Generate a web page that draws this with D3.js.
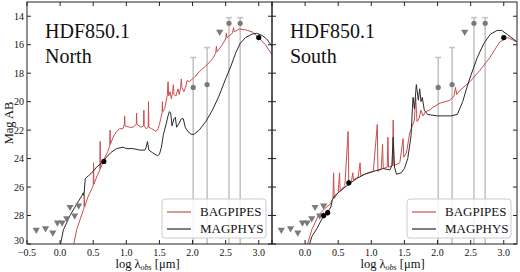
<!DOCTYPE html>
<html lang="en">
<head>
    <meta charset="UTF-8">
    <title>HDF850.1 SED</title>
    <script src="https://d3js.org/d3.v7.min.js"></script>
    <style>
        body { margin: 0; background: #fff; }
    </style>
</head>
<body>
<script>
    const width  = 520;
    const height = 272;

    // tick values
    const xTicks = [-0.5, 0.0, 0.5, 1.0, 1.5, 2.0, 2.5, 3.0];
    const yTicks = [14, 16, 18, 20, 22, 24, 26, 28, 30];

    // photometry shared by both panels (log lambda, mag)
    const limits = [[-0.36, 29.0], [-0.22, 28.9], [-0.11, 29.2], [-0.04, 28.5], [0.03, 28.5],
                    [0.10, 28.2], [0.15, 27.4], [0.22, 28.0], [0.28, 27.3], [2.41, 15.1]];
    const firPts = [[2.01, 19.0, 16.9], [2.22, 18.8, 16.2], [2.55, 14.5, 14.1], [2.72, 14.5, 14.1]];

    // North component
    const northPipes = [[0.18,30.6],[0.25,29.0],[0.30,28.3],[0.36,27.5],[0.365,26.6],[0.37,27.4],[0.42,26.7],
        [0.48,26.1],[0.50,25.9],[0.505,24.3],[0.51,25.8],[0.56,25.2],[0.60,24.8],[0.605,22.8],[0.61,24.7],
        [0.66,24.1],[0.72,23.5],[0.75,23.1],[0.755,22.0],[0.76,23.0],[0.80,22.5],[0.85,22.1],[0.90,21.9],
        [0.95,21.9],[0.97,21.6],[0.975,21.0],[0.98,21.7],[1.05,21.8],[1.10,21.8],[1.15,21.6],[1.155,20.8],
        [1.16,21.6],[1.22,21.8],[1.26,21.7],[1.265,20.6],[1.27,21.7],[1.30,21.9],[1.33,21.8],[1.335,20.0],
        [1.34,21.8],[1.38,21.9],[1.42,22.0],[1.45,22.1],[1.48,21.9],[1.50,21.6],[1.52,21.2],[1.54,20.8],
        [1.545,20.0],[1.55,20.7],[1.58,20.5],[1.60,20.0],[1.62,19.5],[1.63,18.6],[1.64,19.6],[1.66,19.3],
        [1.68,19.8],[1.70,19.3],[1.71,18.8],[1.72,19.5],[1.75,19.6],[1.78,19.1],[1.80,19.5],[1.82,19.0],
        [1.83,18.4],[1.84,19.0],[1.87,19.3],[1.90,18.9],[1.92,18.5],[1.95,18.6],[2.00,18.4],[2.05,18.2],
        [2.10,17.9],[2.20,17.5],[2.30,17.0],[2.35,16.6],[2.36,16.1],[2.37,16.5],[2.45,16.0],[2.50,15.6],
        [2.51,15.2],[2.52,15.5],[2.60,15.2],[2.62,14.8],[2.63,15.1],[2.70,14.9],[2.80,14.95],[2.90,15.1],
        [3.00,15.5],[3.10,16.0],[3.20,16.7]];
    const northMagphys = [[-0.02,30.6],[0.05,29.0],[0.10,28.5],[0.15,28.0],[0.25,27.2],[0.33,26.6],[0.35,26.4],
        [0.36,26.6],[0.37,26.0],[0.38,25.4],[0.43,25.2],[0.50,24.9],[0.55,24.6],[0.63,24.3],[0.70,23.9],
        [0.76,23.6],[0.85,23.3],[0.95,23.2],[1.00,23.3],[1.10,23.3],[1.20,23.4],[1.28,23.4],[1.30,23.2],
        [1.32,22.8],[1.34,23.4],[1.40,23.6],[1.47,23.8],[1.50,23.7],[1.53,23.2],[1.56,22.3],[1.60,21.6],
        [1.63,21.0],[1.65,20.7],[1.67,20.8],[1.69,21.7],[1.72,21.2],[1.74,21.1],[1.76,21.8],[1.80,21.5],
        [1.83,21.2],[1.86,21.2],[1.89,21.8],[1.93,22.1],[1.98,22.3],[2.02,22.3],[2.10,22.0],[2.20,21.4],
        [2.30,20.6],[2.40,19.6],[2.50,18.4],[2.58,17.5],[2.65,16.6],[2.72,15.9],[2.80,15.5],[2.90,15.25],
        [2.97,15.2],[3.05,15.35],[3.12,15.6],[3.20,16.1]];
    const northDet = [[0.66, 24.2, 0.15], [3.00, 15.5, 0.15]];

    // South component
    const southPipes = [[0.00,30.6],[0.10,29.0],[0.20,28.0],[0.30,27.5],[0.38,27.2],[0.42,26.8],[0.43,25.0],
        [0.44,26.8],[0.48,26.5],[0.50,26.4],[0.52,25.0],[0.53,26.3],[0.58,26.0],[0.60,25.9],[0.65,22.1],
        [0.66,25.8],[0.70,25.6],[0.72,25.0],[0.73,25.5],[0.80,25.3],[0.83,24.3],[0.84,25.2],[0.90,25.1],
        [0.95,25.0],[1.03,24.9],[1.09,21.6],[1.10,24.9],[1.15,24.7],[1.17,23.0],[1.18,24.7],[1.24,24.6],
        [1.25,22.5],[1.26,24.6],[1.32,24.5],[1.33,21.3],[1.34,24.5],[1.43,24.3],[1.48,22.6],[1.49,23.9],
        [1.53,23.6],[1.58,22.2],[1.62,21.7],[1.65,21.3],[1.67,19.7],[1.69,21.4],[1.72,21.2],[1.75,20.6],
        [1.78,21.0],[1.82,20.7],[1.88,20.6],[1.93,20.4],[2.04,20.1],[2.19,19.9],[2.25,19.6],[2.27,19.0],
        [2.29,19.5],[2.34,19.2],[2.49,18.6],[2.64,17.8],[2.79,16.9],[2.94,15.8],[3.06,15.5],[3.20,15.8]];
    const southMagphys = [[0.03,30.6],[0.10,29.5],[0.18,28.9],[0.27,28.1],[0.35,27.7],[0.39,27.4],[0.41,26.9],
        [0.45,26.6],[0.50,26.4],[0.63,25.9],[0.78,25.4],[0.90,25.1],[1.03,24.9],[1.18,24.7],[1.28,24.8],
        [1.31,24.5],[1.33,22.5],[1.35,24.6],[1.38,25.1],[1.45,25.0],[1.50,24.7],[1.55,24.0],[1.60,22.4],
        [1.62,20.5],[1.63,19.7],[1.65,20.5],[1.68,18.8],[1.71,19.9],[1.73,19.1],[1.75,20.0],[1.77,19.7],
        [1.80,20.6],[1.85,20.9],[2.00,21.0],[2.20,21.0],[2.30,20.9],[2.38,20.0],[2.45,18.9],[2.50,18.2],
        [2.60,16.9],[2.70,15.9],[2.80,15.25],[2.90,15.0],[2.97,15.0],[3.06,15.3],[3.20,15.8]];
    const southDet = [[0.28, 28.0, 0.2], [0.34, 27.8, 0.2], [0.66, 25.7, 0.2], [3.00, 15.5, 0.15]];

    const panels = [
        {x0: 27,  name: "North", pipes: northPipes, magphys: northMagphys, det: northDet, first: true},
        {x0: 272, name: "South", pipes: southPipes, magphys: southMagphys, det: southDet, first: false}
    ];

    const redCol   = "#c9504f";
    const blackCol = "#2a2a2a";
    const serif = "'Liberation Serif', 'Times New Roman', 'DejaVu Serif', serif";
    const pw = 245, yTop = 2, yBot = 244;

    const svg = d3.select("body").append("svg").attr("width", width).attr("height", height)
        .attr("font-family", serif);
    const defs = svg.append("defs");

    panels.forEach((p, i) => {
        const x = d3.scaleLinear().domain([-0.5, 3.2]).range([p.x0, p.x0 + pw]);
        const y = d3.scaleLinear().domain([13, 30]).range([yTop, yBot]);

        defs.append("clipPath").attr("id", "clip" + i)
            .append("rect").attr("x", p.x0).attr("y", yTop).attr("width", pw).attr("height", yBot - yTop);

        const g = svg.append("g").attr("clip-path", `url(#clip${i})`);

        // error bars of the FIR points
        firPts.forEach(d => {
            g.append("line").attr("x1", x(d[0])).attr("x2", x(d[0]))
                .attr("y1", y(d[2])).attr("y2", y(31))
                .attr("stroke", "#c4c4c4").attr("stroke-width", 1.6);
            g.append("line").attr("x1", x(d[0]) - 3).attr("x2", x(d[0]) + 3)
                .attr("y1", y(d[2])).attr("y2", y(d[2]))
                .attr("stroke", "#c4c4c4").attr("stroke-width", 1.6);
        });

        const line = d3.line().x(d => x(d[0])).y(d => y(d[1]));

        g.append("path").attr("d", line(p.pipes)).attr("fill", "none")
            .attr("stroke", redCol).attr("stroke-width", 1);
        g.append("path").attr("d", line(p.magphys)).attr("fill", "none")
            .attr("stroke", blackCol).attr("stroke-width", 1);

        // upper limits
        const tri = d3.symbol().type(d3.symbolTriangle).size(22);
        g.selectAll(null).data(limits).join("path")
            .attr("d", tri)
            .attr("transform", d => `translate(${x(d[0])},${y(d[1])}) rotate(180)`)
            .attr("fill", "#7a7a7a");

        g.selectAll(null).data(firPts).join("circle")
            .attr("cx", d => x(d[0])).attr("cy", d => y(d[1])).attr("r", 2.6)
            .attr("fill", "#7a7a7a");

        // detections
        p.det.forEach(d => {
            g.append("line").attr("x1", x(d[0])).attr("x2", x(d[0]))
                .attr("y1", y(d[1] - d[2])).attr("y2", y(d[1] + d[2]))
                .attr("stroke", "#111").attr("stroke-width", 1);
            g.append("circle").attr("cx", x(d[0])).attr("cy", y(d[1])).attr("r", 2.6).attr("fill", "#000");
        });

        // frame
        svg.append("rect").attr("x", p.x0).attr("y", yTop).attr("width", pw).attr("height", yBot - yTop)
            .attr("fill", "none").attr("stroke", "#222").attr("stroke-width", 1);

        // ticks, pointing in
        const ax = svg.append("g");
        xTicks.forEach(t => {
            ax.append("line").attr("x1", x(t)).attr("x2", x(t)).attr("y1", yBot).attr("y2", yBot - 4).attr("stroke", "#222");
            ax.append("line").attr("x1", x(t)).attr("x2", x(t)).attr("y1", yTop).attr("y2", yTop + 4).attr("stroke", "#222");
            if (p.first || t >= 0) {
                ax.append("text").attr("x", x(t)).attr("y", yBot + 12).attr("text-anchor", "middle")
                    .attr("font-size", 10).attr("fill", "#111")
                    .text(d3.format(".1f")(t).replace("-", "\u2212"));
            }
        });
        yTicks.forEach(t => {
            ax.append("line").attr("x1", p.x0).attr("x2", p.x0 + 4).attr("y1", y(t)).attr("y2", y(t)).attr("stroke", "#222");
            ax.append("line").attr("x1", p.x0 + pw).attr("x2", p.x0 + pw - 4).attr("y1", y(t)).attr("y2", y(t)).attr("stroke", "#222");
            if (p.first) {
                ax.append("text").attr("x", p.x0 - 3).attr("y", y(t) + (t === 30 ? 0 : 3.5)).attr("text-anchor", "end")
                    .attr("font-size", 10).attr("fill", "#111").text(t);
            }
        });

        // panel title
        const tt = svg.append("text").attr("font-size", 20).attr("fill", "#111");
        tt.append("tspan").attr("x", p.x0 + 18).attr("y", 38).text("HDF850.1");
        tt.append("tspan").attr("x", p.x0 + 18).attr("y", 63).text(p.name);

        // x label
        const xl = svg.append("text").attr("x", p.x0 + pw / 2 - 2).attr("y", 268)
            .attr("text-anchor", "middle").attr("font-size", 12.5).attr("fill", "#111");
        xl.append("tspan").text("log \u03bb");
        xl.append("tspan").attr("font-size", 8).attr("font-style", "italic").attr("dy", 2).text("obs");
        xl.append("tspan").attr("dy", -2).text(" [\u03bcm]");

        // legend
        const lx = p.x0 + pw - 110, ly = 199;
        svg.append("rect").attr("x", lx).attr("y", ly).attr("width", 104).attr("height", 39).attr("rx", 3)
            .attr("fill", "#fff").attr("fill-opacity", 0.85).attr("stroke", "#cccccc");
        [["BAGPIPES", redCol, 12], ["MAGPHYS", blackCol, 29]].forEach(e => {
            svg.append("line").attr("x1", lx + 5).attr("x2", lx + 29).attr("y1", ly + e[2] + 1).attr("y2", ly + e[2] + 1)
                .attr("stroke", e[1]).attr("stroke-width", 1.2);
            svg.append("text").attr("x", lx + 38).attr("y", ly + e[2] + 5).attr("font-size", 13)
                .attr("fill", "#111").text(e[0]);
        });
    });

    svg.append("text").attr("transform", "translate(13,123) rotate(-90)")
        .attr("text-anchor", "middle").attr("font-size", 12.5).attr("fill", "#111").text("Mag AB");
</script>
</body>
</html>
